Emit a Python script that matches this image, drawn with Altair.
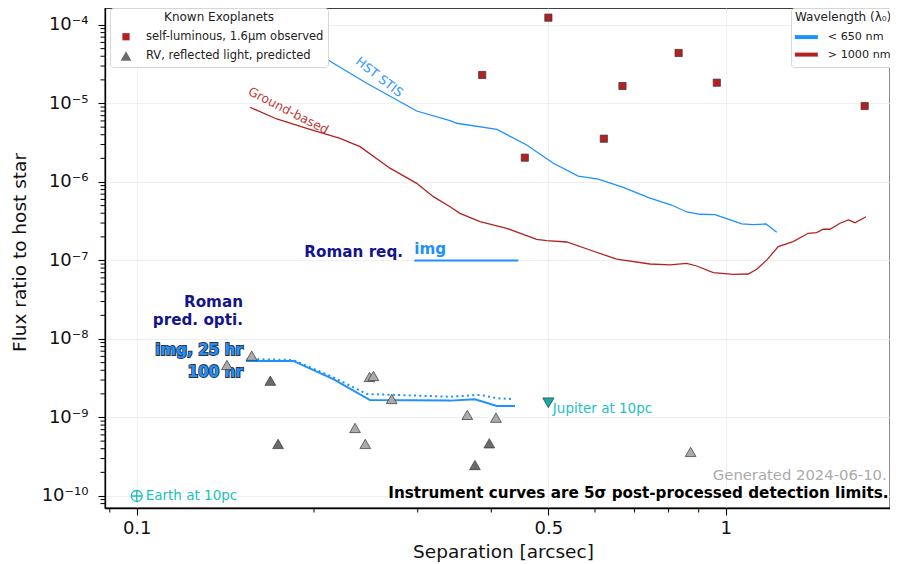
import altair as alt
import pandas as pd

FONT = "DejaVu Sans"
BLUE = "#1e90ff"
RED = "#b22222"
NAVY = "#14148c"
TEAL = "#22bfbf"

X_DOMAIN = [0.08834, 1.9012]
Y_DOMAIN = [7.03e-11, 1.6465e-4]

# ---------------- data ----------------
hst_sep = [0.1994, 0.2157, 0.2458, 0.2988, 0.3404, 0.3494, 0.4087, 0.4594, 0.5098, 0.5620, 0.6077,
           0.6701, 0.7437, 0.8094, 0.8585, 0.9045, 0.9590, 1.004, 1.065, 1.114, 1.171, 1.221]
hst_flux = [4.80e-5, 3.25e-5, 1.81e-5, 8.02e-6, 6.04e-6, 5.60e-6, 4.69e-6, 2.96e-6, 1.73e-6, 1.19e-6, 1.09e-6,
            8.56e-7, 6.25e-7, 5.09e-7, 4.15e-7, 3.88e-7, 3.83e-7, 3.41e-7, 2.92e-7, 2.86e-7, 2.92e-7, 2.29e-7]

gnd_sep = [0.1557, 0.1729, 0.1944, 0.2214, 0.2394, 0.2692, 0.2988, 0.3189, 0.3404, 0.3539, 0.3827, 0.4249,
           0.4776, 0.4967, 0.5372, 0.5884, 0.6529, 0.7437, 0.8043, 0.8585, 0.8929, 0.9528, 1.030, 1.092,
           1.129, 1.174, 1.228, 1.302, 1.381, 1.427, 1.464, 1.503, 1.564, 1.616, 1.658, 1.731]
gnd_flux = [8.95e-6, 6.35e-6, 4.83e-6, 3.60e-6, 2.82e-6, 1.50e-6, 9.62e-7, 6.50e-7, 4.84e-7, 3.99e-7, 3.12e-7, 2.57e-7,
            1.86e-7, 1.79e-7, 1.72e-7, 1.36e-7, 1.04e-7, 9.02e-8, 8.77e-8, 9.21e-8, 8.51e-8, 7.00e-8, 6.67e-8, 6.73e-8,
            7.73e-8, 1.01e-7, 1.50e-7, 1.74e-7, 2.22e-7, 2.27e-7, 2.50e-7, 2.50e-7, 2.98e-7, 3.28e-7, 3.03e-7, 3.61e-7]

rom_dot_sep = [0.1537, 0.1844, 0.2157, 0.2458, 0.3404, 0.3827, 0.4087, 0.4359]
rom_dot_flux = [5.56e-9, 5.40e-9, 3.25e-9, 1.99e-9, 1.84e-9, 1.94e-9, 1.76e-9, 1.72e-9]
rom_sol_sep = [0.1533, 0.1844, 0.2157, 0.2489, 0.3404, 0.3752, 0.4087, 0.4387]
rom_sol_flux = [5.25e-9, 5.25e-9, 3.09e-9, 1.67e-9, 1.64e-9, 1.71e-9, 1.40e-9, 1.40e-9]

req_sep = [0.2960, 0.4445]
req_flux = [1e-7]

sq_sep = [0.386, 0.500, 0.456, 0.621, 0.668, 0.832, 0.966, 1.722]
sq_flux = [2.31e-5, 1.24e-4, 2.04e-6, 3.56e-6, 1.67e-5, 4.40e-5, 1.84e-5, 9.29e-6]

tri_light_sep = [0.1568, 0.1423, 0.2348, 0.2444, 0.2485, 0.2523, 0.2710, 0.3642, 0.4074, 0.872]
tri_light_flux = [6.12e-9, 4.67e-9, 7.35e-10, 4.60e-10, 3.28e-9, 3.38e-9, 1.72e-9, 1.08e-9, 9.94e-10, 3.64e-10]
tri_dark_sep = [0.1686, 0.1738, 0.3969, 0.3752]
tri_dark_flux = [2.94e-9, 4.60e-10, 4.69e-10, 2.48e-10]

jupiter = (0.5, 1.54e-9)
earth = (0.1, 1e-10)

bands = ["< 650 nm", "> 1000 nm"]
kinds = ["self-luminous, 1.6\u00b5m observed", "RV, reflected light, predicted"]

x_major = [0.1, 0.5, 1]
x_minor = [0.09, 0.2, 0.3, 0.4, 0.6, 0.7, 0.8, 0.9]
y_major = [1e-10, 1e-9, 1e-8, 1e-7, 1e-6, 1e-5, 1e-4]
y_labels = ["10\u207b\u00b9\u2070", "10\u207b\u2079", "10\u207b\u2078", "10\u207b\u2077",
            "10\u207b\u2076", "10\u207b\u2075", "10\u207b\u2074"]
y_minor = [m * 10.0 ** e for e in range(-11, -3) for m in range(2, 10)
           if Y_DOMAIN[0] <= m * 10.0 ** e <= Y_DOMAIN[1]]

# ---------------- scales / axes ----------------
xs = alt.Scale(type="log", domain=X_DOMAIN, nice=False)
ys = alt.Scale(type="log", domain=Y_DOMAIN, nice=False)

ylab_expr = ""
for v, lab in zip(reversed(y_major), reversed(y_labels)):
    ylab_expr += f"datum.value > {v * 0.5} ? '{lab}' : "
ylab_expr += "''"

x_axis = alt.Axis(values=x_major, labelExpr="datum.value < 0.3 ? '0.1' : datum.value < 0.7 ? '0.5' : '1'",
                  tickSize=7, tickColor="black", tickWidth=1.1, domainColor="black", domainWidth=1.3,
                  labelFont=FONT, labelFontSize=18, labelColor="#111", labelPadding=4,
                  grid=True, gridColor="#ececec", gridWidth=0.8,
                  title="Separation [arcsec]", titleFont=FONT, titleFontSize=18.5, titleFontWeight="normal",
                  titleColor="#111", titleX=398, titleY=49, titleBaseline="alphabetic", titleAlign="center")
y_axis = alt.Axis(values=y_major, labelExpr=ylab_expr,
                  tickSize=7, tickColor="black", tickWidth=1.1, domainColor="black", domainWidth=1.3,
                  labelFont=FONT, labelFontSize=18, labelColor="#111", labelPadding=10,
                  grid=True, gridColor="#ececec", gridWidth=0.8,
                  title="Flux ratio to host star", titleFont=FONT, titleFontSize=18.5, titleFontWeight="normal",
                  titleColor="#111", titleX=-86, titleY=244, titleAngle=-90, titleBaseline="middle",
                  titleAlign="center")


def X(field="x"):
    return alt.X(f"{field}:Q", scale=xs, axis=x_axis)


def Y(field="y"):
    return alt.Y(f"{field}:Q", scale=ys, axis=y_axis)


# ---------------- layers ----------------
curves = pd.concat([
    pd.DataFrame({"x": hst_sep, "y": hst_flux, "band": bands[0], "curve": "HST STIS"}),
    pd.DataFrame({"x": gnd_sep, "y": gnd_flux, "band": bands[1], "curve": "Ground-based"}),
])

wl_legend = alt.Legend(title="Wavelength (\u03bb\u2080)", orient="none", legendX=686, legendY=0,
                       symbolType="M-5,0H5", symbolSize=21.16, symbolStrokeWidth=4, symbolOffset=5.75,
                       labelFont=FONT, labelFontSize=11.2, labelColor="#222", labelOffset=15.75,
                       titleFont=FONT, titleFontSize=12, titleFontWeight="normal", titleColor="#222",
                       titleAnchor="start", titlePadding=7.5, rowPadding=0.5,
                       padding=4, strokeColor="#d6d6d6", fillColor="white", cornerRadius=3)

lines = alt.Chart(curves).mark_line(strokeWidth=1.3).encode(
    x=X(), y=Y(),
    color=alt.Color("band:N", scale=alt.Scale(domain=bands, range=[BLUE, RED]), legend=wl_legend),
    detail="curve:N",
)

minor_x = alt.Chart(pd.DataFrame({"x": x_minor})).mark_rule(color="black", strokeWidth=1).encode(
    x=X(), y=alt.value(500), y2=alt.value(504.5))
minor_y = alt.Chart(pd.DataFrame({"y": y_minor})).mark_rule(color="black", strokeWidth=1).encode(
    y=Y(), x=alt.value(-4.5), x2=alt.value(0))

rom_sol = alt.Chart(pd.DataFrame({"x": rom_sol_sep, "y": rom_sol_flux})).mark_line(
    color=BLUE, strokeWidth=2).encode(x=X(), y=Y())
rom_dot = alt.Chart(pd.DataFrame({"x": rom_dot_sep, "y": rom_dot_flux})).mark_line(
    color=BLUE, strokeWidth=2, strokeDash=[2, 3.3]).encode(x=X(), y=Y())
rom_req = alt.Chart(pd.DataFrame({"x": [req_sep[0]], "x2": [req_sep[1]], "y": req_flux})).mark_rule(
    color=BLUE, strokeWidth=2).encode(x=X(), x2="x2:Q", y=Y())

# points
pts = pd.concat([
    pd.DataFrame({"x": sq_sep, "y": sq_flux, "kind": kinds[0]}),
    pd.DataFrame({"x": tri_dark_sep, "y": tri_dark_flux, "kind": kinds[1]}),
])
pt_legend = alt.Legend(title="Known Exoplanets", orient="none", legendX=5, legendY=0,
                       labelFont=FONT, labelFontSize=11.5, labelColor="#222", labelOffset=14, labelLimit=400,
                       titleFont=FONT, titleFontSize=12, titleFontWeight="normal", titleColor="#222",
                       titleAnchor="middle", titlePadding=7, rowPadding=6, symbolOffset=6,
                       symbolStrokeColor="#333", symbolStrokeWidth=0.7,
                       padding=4, strokeColor="#d6d6d6", fillColor="white", cornerRadius=3)
points = alt.Chart(pts).mark_point(filled=True, opacity=1, stroke="#333", strokeWidth=0.7).encode(
    x=X(), y=Y(),
    fill=alt.Fill("kind:N", scale=alt.Scale(domain=kinds, range=[RED, "#6b6b6b"]), legend=pt_legend),
    shape=alt.Shape("kind:N", scale=alt.Scale(domain=kinds, range=["square", "triangle-up"]), legend=pt_legend),
    size=alt.Size("kind:N", scale=alt.Scale(domain=kinds, range=[52, 115]), legend=pt_legend),
)
light = alt.Chart(pd.DataFrame({"x": tri_light_sep, "y": tri_light_flux})).mark_point(
    filled=True, opacity=1, shape="triangle-up", size=115, fill="#ababab", stroke="#333",
    strokeWidth=0.7).encode(x=X(), y=Y())

jup = alt.Chart(pd.DataFrame({"x": [jupiter[0]], "y": [jupiter[1]]})).mark_point(
    filled=True, opacity=1, shape="triangle-down", size=125, fill="#1aa9a9", stroke="#1d4d4d",
    strokeWidth=0.8).encode(x=X(), y=Y())
earth_pt = alt.Chart(pd.DataFrame({"x": [earth[0]], "y": [earth[1]]})).mark_point(
    filled=False, opacity=1, size=121, color=TEAL, strokeWidth=1.3,
    shape="M-1,0A1,1,0,1,1,1,0A1,1,0,1,1,-1,0ZM-1,0L1,0M0,-1L0,1").encode(x=X(), y=Y())


def text_layer(xv, yv, labels, **kw):
    df = pd.DataFrame({"x": xv, "y": yv, "t": labels})
    return alt.Chart(df).mark_text(font=FONT, **kw).encode(x=X(), y=Y(), text="t:N")


BOLD = 15.2
t_hst = text_layer([0.2582], [2.16e-5], ["HST STIS"], fontSize=12.5, color="#3399ff", angle=38)
t_gnd = text_layer([0.1809], [8.09e-6], ["Ground-based"], fontSize=12.5, color="#c03a3a", angle=27)
t_req = text_layer([0.2833], [1.29e-7], ["Roman req."], fontSize=BOLD, fontWeight="bold", color=NAVY,
                   align="right", baseline="middle")
t_img = text_layer([0.2960], [1.40e-7], ["img"], fontSize=BOLD, fontWeight="bold", color=BLUE,
                   align="left", baseline="middle")
t_pred = text_layer([0.1515, 0.1515], [2.99e-8, 1.75e-8], ["Roman", "pred. opti."], fontSize=BOLD,
                    fontWeight="bold", color=NAVY, align="right", baseline="middle")
t_hr_bg = text_layer([0.1515, 0.1515], [7.24e-9, 3.83e-9], ["img, 25 hr", "100 hr"], fontSize=BOLD,
                     fontWeight="bold", color="#333333", stroke="#333333", strokeWidth=1.8,
                     align="right", baseline="middle")
t_hr = text_layer([0.1515, 0.1515], [7.24e-9, 3.83e-9], ["img, 25 hr", "100 hr"], fontSize=BOLD,
                  fontWeight="bold", color=BLUE, align="right", baseline="middle")
t_jup = text_layer([jupiter[0]], [jupiter[1]], ["Jupiter at 10pc"], fontSize=13.5, color=TEAL,
                   align="left", baseline="middle", dx=4.5, dy=6.5)
t_earth = text_layer([earth[0]], [earth[1]], ["Earth at 10pc"], fontSize=13.5, color=TEAL,
                     align="left", baseline="middle", dx=9)
t_gen = text_layer([1.877], [1.80e-10], ["Generated 2024-06-10."], fontSize=14.8, color="#aaaaaa",
                   align="right", baseline="middle")
t_note = text_layer([1.89], [1.08e-10], ["Instrument curves are 5\u03c3 post-processed detection limits."],
                    fontSize=15.2, fontWeight="bold", color="black", align="right", baseline="middle")

chart = alt.layer(
    lines, minor_x, minor_y, rom_req, rom_sol, rom_dot,
    t_hst, t_gnd, t_req, t_img, t_pred, t_hr_bg, t_hr, t_gen, t_note,
    light, points, jup, earth_pt, t_jup, t_earth,
).properties(
    width=785, height=500,
    autosize=alt.AutoSizeParams(type="none"),
    padding={"left": 97, "top": 0, "right": 0, "bottom": 56},
).configure(font=FONT).configure_view(stroke="black", strokeWidth=1.3)

chart.save("out.html", embed_options={"renderer": "svg", "actions": False})
